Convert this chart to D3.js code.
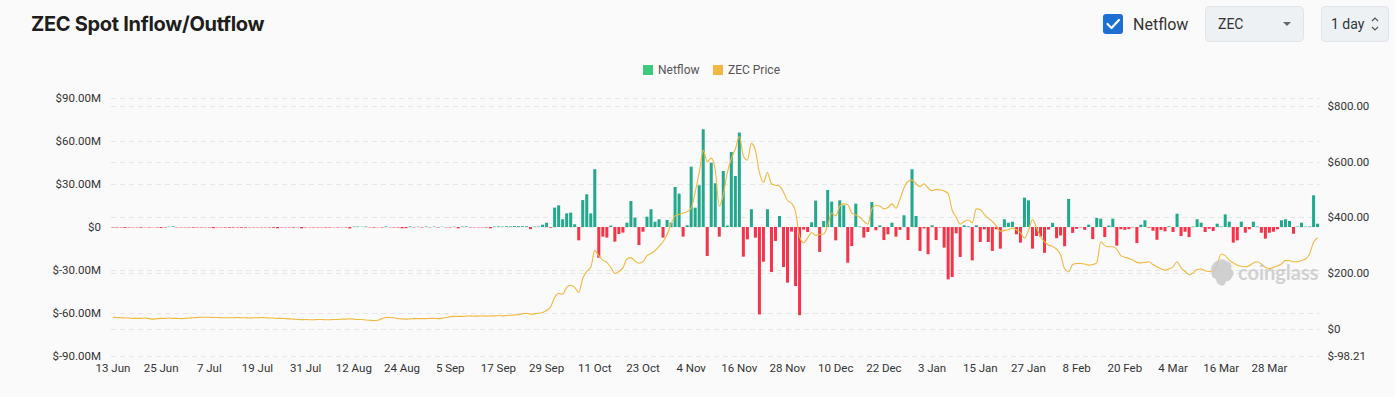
<!DOCTYPE html>
<html><head><meta charset="utf-8">
<script src="https://cdn.jsdelivr.net/npm/d3@7"></script>
<style>
body{margin:0;background:#fafafa;}
svg{display:block;}
</style></head><body>
<svg id="c" width="1395" height="397"></svg>
<script>
// ---- DATA ----
const startDate = new Date(2025, 5, 13); // 13 Jun 2025, one category per day
const netflow = [
-0.3,-0.4,-0.3,-0.6,-0.3,-0.2,-0.3,-0.4,-0.2,-0.3,-0.2,-0.3,-0.6,-0.3,0.2,0.4,
-0.2,-0.3,-0.2,-0.3,-0.4,-0.3,-0.3,-0.2,-0.3,-0.8,-0.3,-0.2,-0.4,-0.5,-0.4,
-0.3,-0.5,-0.4,-0.2,-0.3,-0.2,-0.3,-0.2,-0.3,-0.5,-0.9,-0.3,-0.2,-0.3,-0.4,
-0.2,-0.9,-0.3,-0.2,-0.3,-0.3,-0.2,-0.4,-0.3,-0.2,-0.3,-0.2,-0.3,-1.0,0.3,
0.3,0.2,0.3,-0.3,-0.4,-0.2,-0.3,0.4,-0.2,-0.3,-0.4,-0.9,-0.8,0.4,-0.3,
0.2,-0.3,0.3,-0.2,0.3,-0.3,0.2,-0.2,-0.3,0.2,-0.9,0.3,0.4,-0.3,-0.2,
-0.3,-0.2,-0.4,-0.9,0.3,0.4,0.3,0.5,0.4,0.6,0.5,
0.5,0.5,-1.5,0.3,0.3,1.6,3,-0.5,13.5,15.1,5.4,9.5,10,1.9,-9.3,18.8,22.8,9.5,40.3,-21.4,
-6.7,-7.4,1,-10.2,-4.9,-3.9,3,18.1,6.5,-12.6,-3.3,7.2,12.4,3.7,5.4,-7.4,4.9,3,27.9,23.3,
-6.7,1.2,42.1,13.5,29.1,68.2,-20.2,44.9,30.5,-6.7,39.1,1,52.3,35.6,65.9,-20.7,-8.6,12.4,-7.4,-61,
-24.2,12.4,-31.4,-9.7,7.7,-27.9,-38.8,-3.2,-41.2,-61.5,-1.8,-3.5,3.3,18.4,
-17.4,4.2,25.8,17.7,-9.3,18.6,15.1,-24.9,-13.3,16.3,
0.3,-7.4,-3.5,17.4,-2.3,1.2,-9.1,-5.1,3,-6.7,
-2,8.2,-9.1,40.3,7.7,-16.7,-1,-19,1.2,-9.1,
-0.3,-14.4,-36.5,-34.9,-4.4,-20.9,1.2,0.5,-23.3,1.2,
-10.5,-1.6,-10.5,-16.7,-1.6,-15.1,5.4,3,3.7,-5.1,
-10.9,20.5,18.6,-15.1,-6.3,
-6.6,-18,-1.8,2.9,-7.8,-5.9,-13.4,19.6,-4.1,-1.3,
-0.3,-2,1.6,-8.4,6.3,5.8,-7,1,5.8,-13,
-1.5,-2,-1.5,-0.3,-11.2,1.6,4.7,-0.5,-2.6,-8.9,
-2,-3,0.5,-3.5,9.3,
-6.3,-3.3,-7,0.3,5.4,3,-3.5,-1.2,-2.8,2.3,
0.3,8.8,3.7,-10.9,-9.3,3.7,-4,-1.6,3.7,0.3,
-4,-8.1,-4,-3.3,-1.6,4.7,5.4,4.2,-4.7,0.3,
3,0.3,0.3,22.1,2.3
];
const price = [
41,40,39,38,38,37,37,37,38,36, 34,36,37,37,38,37,37,36,37,38,
39,40,41,41,41,40,40,39,39,39, 39,40,39,39,38,39,39,40,39,38,
38,37,37,36,35,34,33,32,33,32, 32,33,33,32,32,33,33,34,34,35,
34,33,33,31,30,29,30,36,40,40, 39,36,35,34,35,36,36,36,36,37,
37,36,37,40,43,44,44,44,45,46, 45,45,46,45,46,46,47,46,47,48,
49,
50,54,55,52,53,55,58,65,78,112,
126,124,148,156,148,130,180,205,220,280,
262,246,238,220,198,205,218,250,255,243,
235,240,262,270,280,295,312,338,375,405,
410,415,420,432,490,560,640,600,612,570,
440,480,560,610,645,690,620,605,665,640,
560,525,560,520,515,512,490,460,450,420,
330,308,325,345,335,
338,340,370,415,405,440,448,445,415,408,
400,385,375,430,442,440,430,435,448,432,
465,505,528,533,520,510,520,505,495,500,
498,494,485,425,400,375,385,390,380,430,
428,410,396,385,368,350,352,356,360,355,
345,325,352,392,362,330,312,300,295,285,
265,215,204,230,234,
234,232,228,230,236,312,298,294,294,285,
262,256,252,246,238,236,238,240,230,222,
215,210,214,222,240,218,205,194,200,212,
214,208,205,204,230,268,262,246,236,228,
224,222,226,236,240,232,220,216,220,226,
232,245,244,240,240,245,250,268,310,326
];
const xTickLabels = ['13 Jun','25 Jun','7 Jul','19 Jul','31 Jul','12 Aug','24 Aug','5 Sep','17 Sep','29 Sep','11 Oct','23 Oct','4 Nov','16 Nov','28 Nov','10 Dec','22 Dec','3 Jan','15 Jan','27 Jan','8 Feb','20 Feb','4 Mar','16 Mar','28 Mar'];
const xTickStep = 12;
const leftTicks = [-90,-60,-30,0,30,60,90];
const rightTicks = [-98.21,0,200,400,600,800];
const leftDomain = [-90, 90];
const rightDomain = [-98.21, 828];

// ---- CHART ----
const svg = d3.select('#c');
const W = 1395, H = 397;
svg.append('rect').attr('width', W).attr('height', H).attr('fill', '#fafafa');

const plot = {left: 111, right: 1319.5, top: 98, bottom: 356};
const days = d3.range(netflow.length).map(i => d3.timeDay.offset(startDate, i));
const x = d3.scaleBand().domain(days.map((d,i)=>i)).range([plot.left, plot.right]).paddingInner(0.25).paddingOuter(0.1);
const yL = d3.scaleLinear().domain(leftDomain).range([plot.bottom, plot.top]);
const yR = d3.scaleLinear().domain(rightDomain).range([plot.bottom, plot.top]);

const FONT = 'Roboto, "Noto Sans", sans-serif';

// grid
const grid = svg.append('g');
leftTicks.forEach(t => grid.append('line').attr('x1', plot.left).attr('x2', plot.right)
  .attr('y1', Math.round(yL(t))+0.5).attr('y2', Math.round(yL(t))+0.5)
  .attr('stroke', '#e6e6e6').attr('stroke-dasharray', '5,4'));
rightTicks.slice(1).forEach(t => grid.append('line').attr('x1', plot.left).attr('x2', plot.right)
  .attr('y1', Math.round(yR(t))+0.5).attr('y2', Math.round(yR(t))+0.5)
  .attr('stroke', '#e6e6e6').attr('stroke-dasharray', '5,4'));

// left axis
const fmtL = v => v === 0 ? '$0' : '$' + v.toFixed(2) + 'M';
const axL = d3.axisLeft(yL).tickValues(leftTicks).tickFormat(fmtL).tickSize(0).tickPadding(10);
const gL = svg.append('g').attr('transform', `translate(${plot.left},0)`).call(axL);
gL.select('.domain').remove();
gL.selectAll('text').attr('font-family', FONT).attr('font-size', 11.5).attr('fill', '#333');

// right axis
const fmtR = v => v === 0 ? '$0' : '$' + v.toFixed(2);
const axR = d3.axisRight(yR).tickValues(rightTicks).tickFormat(fmtR).tickSize(0).tickPadding(8);
const gR = svg.append('g').attr('transform', `translate(${plot.right},0)`).call(axR);
gR.select('.domain').remove();
gR.selectAll('text').attr('font-family', FONT).attr('font-size', 11.5).attr('fill', '#333');

// x axis
const tickIdx = xTickLabels.map((l,i)=>i*xTickStep);
const axX = d3.axisBottom(x).tickValues(tickIdx).tickFormat((d) => xTickLabels[d/xTickStep]).tickSize(0).tickPadding(8);
const gX = svg.append('g').attr('transform', `translate(0,${plot.bottom})`).call(axX);
gX.select('.domain').remove();
gX.selectAll('text').attr('font-family', FONT).attr('font-size', 11.5).attr('fill', '#333');

// bars
const y0 = yL(0);
svg.append('g').selectAll('rect').data(netflow).join('rect')
  .attr('x', (d,i)=>x(i))
  .attr('width', x.bandwidth())
  .attr('y', d => Math.min(yL(d), y0))
  .attr('height', d => Math.abs(yL(d)-y0))
  .attr('fill', d => d >= 0 ? '#22a98d' : '#f5344a');

// price line
const line = d3.line().x((d,i)=>x(i)+x.bandwidth()/2).y(d=>yR(d)).curve(d3.curveMonotoneX);
svg.append('path').datum(price).attr('d', line).attr('fill','none')
  .attr('stroke','#f0b83e').attr('stroke-width',1.1);

// watermark
const wm = svg.append('g').attr('opacity', 0.85);
wm.append('path').attr('d','M1215,262 q6,-5 12,-1 q6,2 4,8 q5,3 1,8 q-2,5 -6,4 q-1,6 -6,4 q-4,-2 -4,-6 q-5,-1 -4,-6 q-3,-6 3,-11 z')
  .attr('fill','#c9c9c9');
wm.append('text').attr('x',1238).attr('y',280).text('coinglass')
  .attr('font-family','Lato, "Open Sans", sans-serif').attr('font-weight',700).attr('font-size',20)
  .attr('fill','#cbcbcb');

// legend
const lg = svg.append('g').attr('font-family', FONT).attr('font-size', 12).attr('fill','#555');
lg.append('rect').attr('x',643).attr('y',65).attr('width',10).attr('height',10).attr('fill','#3dca7d');
lg.append('text').attr('x',658).attr('y',74).text('Netflow');
lg.append('rect').attr('x',713).attr('y',65).attr('width',10).attr('height',10).attr('fill','#f0b840');
lg.append('text').attr('x',728).attr('y',74).text('ZEC Price');

// title
svg.append('text').attr('x',31).attr('y',31).text('ZEC Spot Inflow/Outflow')
  .attr('font-family','Inter, "Noto Sans", sans-serif').attr('font-weight',700).attr('font-size',20)
  .attr('fill','#1e1e1e').attr('letter-spacing','-0.3');

// controls
const ctl = svg.append('g');
ctl.append('rect').attr('x',1103).attr('y',14).attr('width',20).attr('height',20).attr('rx',3).attr('fill','#1d6fd2');
ctl.append('path').attr('d','M1107.5,24 l4,4 l7.5,-8').attr('fill','none').attr('stroke','#fff').attr('stroke-width',2.2).attr('stroke-linecap','round').attr('stroke-linejoin','round');
ctl.append('text').attr('x',1133).attr('y',30).text('Netflow').attr('font-family',FONT).attr('font-size',16).attr('fill','#333');
ctl.append('rect').attr('x',1205.5).attr('y',6.5).attr('width',98).attr('height',35).attr('rx',4).attr('fill','#eef1f4').attr('stroke','#dfe4ea');
ctl.append('text').attr('x',1218).attr('y',29).text('ZEC').attr('font-family',FONT).attr('font-size',14).attr('fill','#333');
ctl.append('path').attr('d','M1283,22 h8 l-4,4 z').attr('fill','#666');
ctl.append('rect').attr('x',1321.5).attr('y',6.5).attr('width',67).attr('height',35).attr('rx',4).attr('fill','#eef1f4').attr('stroke','#dfe4ea');
ctl.append('text').attr('x',1331).attr('y',29).text('1 day').attr('font-family',FONT).attr('font-size',14).attr('fill','#333');
ctl.append('path').attr('d','M1372,21 l3,-3 l3,3 M1372,27 l3,3 l3,-3').attr('fill','none').attr('stroke','#555').attr('stroke-width',1.2);
</script>
</body></html>
